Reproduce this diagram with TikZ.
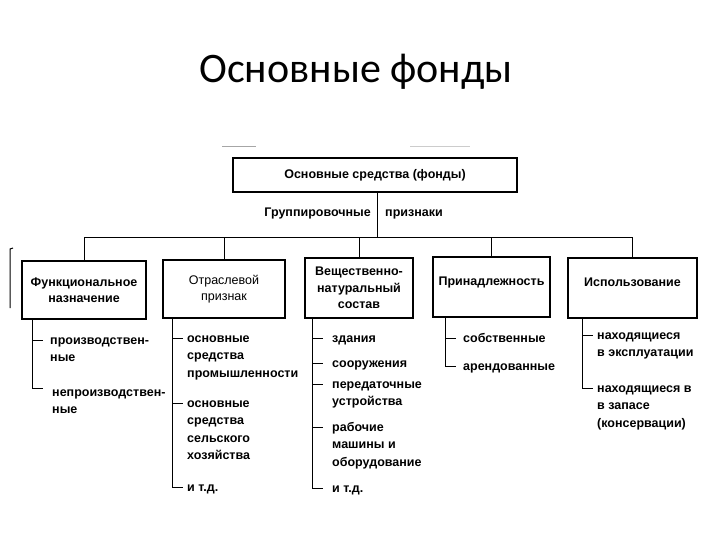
\documentclass[tikz,border=0pt]{standalone}
\usepackage{fontspec}
\setmainfont{Liberation Sans}
\newfontfamily\titlefont{Carlito}
\begin{document}
\begin{tikzpicture}[x=1pt,y=-1pt,
  box/.style={draw,line width=1.2pt,inner sep=0pt,font=\fontsize{12.5}{16.5}\selectfont\bfseries,align=center},
  item/.style={anchor=north west,inner sep=0pt,align=left,font=\fontsize{12.5}{17.5}\selectfont\bfseries},
  ln/.style={line width=1pt},
  tick/.style={line width=1pt}]
\useasboundingbox (0,0) rectangle (720,540);
\node[font=\titlefont\fontsize{42}{48}\selectfont,anchor=base] (title) at (356,83) {Основные фонды};
\draw[gray!70,line width=0.8pt] (222,146) -- (256,146);
\draw[gray!40,line width=0.8pt] (410,146) -- (470,146);
\node[box,minimum width=284pt,minimum height=34pt,font=\fontsize{12.5}{16}\selectfont\bfseries] (main) at (375,175) {Основные средства (фонды)};
\coordinate (bus) at (377,237);
\node[anchor=base east,inner sep=0pt,font=\fontsize{12.5}{16}\selectfont\bfseries] (g1) at (371,217) {Группировочные};
\node[anchor=base west,inner sep=0pt,font=\fontsize{12.5}{16}\selectfont\bfseries] (g2) at (385,217) {признаки};
% boxes
\node[box,minimum width=124pt,minimum height=58pt] (b1) at (84,290) {Функциональное\\назначение};
\node[box,minimum width=122pt,minimum height=58pt,font=\fontsize{12.5}{16.5}\selectfont] (b2) at (224,289) {Отраслевой\\признак};
\node[box,minimum width=108pt,minimum height=60pt] (b3) at (359,288) {Вещественно-\\натуральный\\состав};
\node[box,minimum width=117pt,minimum height=60pt] (b4) at (491.5,287) {};
\node[font=\fontsize{12.5}{16}\selectfont\bfseries,inner sep=0pt] (t4) at (491.5,282) {Принадлежность};
\node[box,minimum width=129pt,minimum height=60pt] (b5) at (632.5,288) {};
\node[font=\fontsize{12.5}{16}\selectfont\bfseries,inner sep=0pt] (t5) at (632.5,282) {Использование};
% bus connectors
\draw[ln] (main.south -| bus) -- (bus);
\draw[ln] (b1.north |- bus) -- (b5.north |- bus);
\foreach \b in {b1,b2,b3,b4,b5} \draw[ln] (\b.north) -- (\b.north |- bus);
% left scan bracket
\draw[line width=1pt] (13,248) -- (10,249) -- (10,308);
% column 1
\coordinate (c1) at (32,388);
\draw[ln] (b1.south -| c1) -- (c1) -- ++(11,0);
\draw[tick] (32,340) -- ++(11,0);
\node[item] (i11) at (50,332) {\strut производствен-\\ные};
\node[item] (i12) at (52,384) {\strut непроизводствен-\\ные};
% column 2
\coordinate (c2) at (172,487);
\draw[ln] (b2.south -| c2) -- (c2) -- ++(11,0);
\draw[tick] (172,338) -- ++(11,0);
\draw[tick] (172,403) -- ++(11,0);
\node[item] (i21) at (187,330) {\strut основные\\средства\\промышленности};
\node[item] (i22) at (187,395) {\strut основные\\средства\\сельского\\хозяйства};
\node[item] (i23) at (187,479) {\strut и т.д.};
% column 3
\coordinate (c3) at (312,488);
\draw[ln] (b3.south -| c3) -- (c3) -- ++(11,0);
\foreach \yy in {338,363,384,427} \draw[tick] (312,\yy) -- ++(11,0);
\node[item] (i31) at (332,330) {\strut здания};
\node[item] (i32) at (332,355) {\strut сооружения};
\node[item] (i33) at (332,376) {\strut передаточные\\устройства};
\node[item] (i34) at (332,419) {\strut рабочие\\машины и\\оборудование};
\node[item] (i35) at (332,480) {\strut и т.д.};
% column 4
\coordinate (c4) at (445,366);
\draw[ln] (b4.south -| c4) -- (c4) -- ++(11,0);
\draw[tick] (445,338) -- ++(11,0);
\node[item] (i41) at (463,330) {\strut собственные};
\node[item] (i42) at (463,358) {\strut арендованные};
% column 5
\coordinate (c5) at (582,388);
\draw[ln] (b5.south -| c5) -- (c5) -- ++(11,0);
\draw[tick] (582,335) -- ++(11,0);
\node[item] (i51) at (597,327) {\strut находящиеся\\в эксплуатации};
\node[item] (i52) at (597,380) {\strut находящиеся в\\в запасе\\(консервации)};
\end{tikzpicture}
\end{document}
